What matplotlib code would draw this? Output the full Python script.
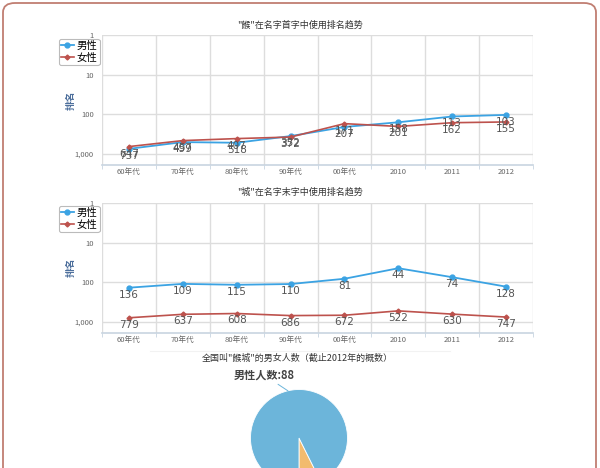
import matplotlib
matplotlib.use("Agg")
import matplotlib.pyplot as plt
from matplotlib.patches import FancyBboxPatch
import numpy as np

plt.rcParams['font.family'] = ['Noto Sans CJK SC', 'DejaVu Sans']

categories = ["60年代", "70年代", "80年代", "90年代", "00年代", "2010", "2011", "2012"]
series_names = ["男性", "女性"]

title1 = '"餱"在名字首字中使用排名趋势'
male1 = [737, 499, 518, 352, 207, 158, 113, 103]
female1 = [647, 457, 407, 372, 171, 201, 162, 155]

title2 = '"城"在名字末字中使用排名趋势'
male2 = [136, 109, 115, 110, 81, 44, 74, 128]
female2 = [779, 637, 608, 686, 672, 522, 630, 747]

pie_title = '全国叫"餱城"的男女人数（截止2012年的概数）'
pie_labels = ["女性人数", "男性人数"]
pie_values = [7, 88]

yticks = [1, 10, 100, 1000]
ytick_labels = ["1", "10", "100", "1,000"]

BLUE = "#3ba3e3"
RED = "#bd524d"
W, H = 600, 468

fig = plt.figure(figsize=(6, 4.68), dpi=100)
fig.patch.set_facecolor("white")

# border
border = FancyBboxPatch((3 / W, -0.2), 593 / W, 1.2 - 3 / H,
                        boxstyle="round,pad=0,rounding_size=0.02",
                        transform=fig.transFigure, facecolor="none",
                        edgecolor="#c07e72", linewidth=1.3, zorder=5)
fig.patches.append(border)


def px(l, t, r, b):
    return [l / W, 1 - b / H, (r - l) / W, (b - t) / H]


def line_chart(rect, title, male, female, title_y, leg_y, ylab_y):
    ax = fig.add_axes(px(*rect))
    x = np.arange(len(categories))
    ax.set_yscale("log")
    ax.set_ylim(1883, 1)
    ax.set_xlim(-0.5, len(categories) - 0.5)
    ax.set_yticks(yticks, labels=ytick_labels)
    ax.yaxis.set_minor_locator(matplotlib.ticker.NullLocator())
    ax.set_xticks(x, labels=categories)
    ax.set_xticks(np.arange(len(categories) + 1) - 0.5, minor=True)
    ax.tick_params(axis="x", which="major", length=0, labelsize=5.5,
                   labelcolor="#666666", pad=2.5)
    ax.tick_params(axis="x", which="minor", length=3, color="#c8d4e0")
    ax.tick_params(axis="y", which="major", length=0, labelsize=5.5,
                   labelcolor="#666666", pad=6)
    ax.grid(True, axis="y", which="major", color="#dddddd", linewidth=1)
    ax.grid(True, axis="x", which="minor", color="#dddddd", linewidth=1)
    for s in ["top", "right", "left"]:
        ax.spines[s].set_visible(False)
    ax.spines["bottom"].set_color("#c8d4e0")
    ax.spines["bottom"].set_linewidth(1.2)
    lm, = ax.plot(x, male, color=BLUE, lw=1.3, marker="o", ms=3.5, zorder=3)
    lf, = ax.plot(x, female, color=RED, lw=1.2, marker="D", ms=2.5, zorder=3)
    for xi, v in zip(x, male):
        ax.annotate(str(v), (xi, v), xytext=(0, -5), textcoords="offset points",
                    ha="center", va="center", fontsize=7.5, color="#555555",
                    family="DejaVu Sans", zorder=4)
    for xi, v in zip(x, female):
        ax.annotate(str(v), (xi, v), xytext=(0, -5), textcoords="offset points",
                    ha="center", va="center", fontsize=7.5, color="#555555",
                    family="DejaVu Sans", zorder=4)
    fig.text(300 / W, 1 - title_y / H, title, ha="center", va="center",
             fontsize=6.5, color="#333333")
    leg = fig.legend([lm, lf], series_names, loc="upper left",
                     bbox_to_anchor=(59 / W, 1 - leg_y / H), fontsize=7.5,
                     frameon=True, handlelength=1.2, handletextpad=0.3,
                     borderpad=0.2, labelspacing=0.15, borderaxespad=0,
                     fancybox=True)
    leg.get_frame().set_edgecolor("#aaaaaa")
    leg.get_frame().set_linewidth(0.8)
    fig.text(71 / W, 1 - ylab_y / H, "排名", rotation=90, ha="center",
             va="center", fontsize=7, color="#4d6f9c", fontweight="bold")
    return ax


line_chart((102, 35, 533, 165), title1, male1, female1, 25, 39, 100)
line_chart((102, 203, 533, 333), title2, male2, female2, 192, 206, 267)

# separator shadows
fig.add_artist(plt.Line2D([150 / W, 450 / W], [1 - 351 / H, 1 - 351 / H],
                          color="#f2f2f2", lw=0.8, transform=fig.transFigure))

# pie
r = 48.5
cx, cy = 299, 438
pax = fig.add_axes(px(cx - r, cy - r, cx + r, cy + r))
pax.set_aspect("equal")
wedges, _ = pax.pie(pie_values, colors=["#f2bb6e", "#6cb5da"], startangle=-90,
                    counterclock=True,
                    wedgeprops=dict(edgecolor="white", linewidth=0.6))
pax.set_xlim(-1, 1)
pax.set_ylim(-1, 1)
pax.axis("off")
w = wedges[1]
mid = np.deg2rad((w.theta1 + w.theta2) / 2)
pax.annotate(f"{pie_labels[1]}:{pie_values[1]}", xy=(np.cos(mid), np.sin(mid)),
             xytext=(264 / W, 1 - 375 / H), textcoords="figure fraction",
             ha="center", va="center", fontsize=8, color="#444444",
             fontweight="bold",
             arrowprops=dict(arrowstyle="-", color="#6cb5da", lw=0.7,
                             shrinkA=0, shrinkB=0,
                             connectionstyle="arc3,rad=0"),
             annotation_clip=False)
fig.text(297 / W, 1 - 358 / H, pie_title, ha="center", va="center",
         fontsize=6.5, color="#333333")

fig.savefig("out.png", dpi=100, facecolor="white")
